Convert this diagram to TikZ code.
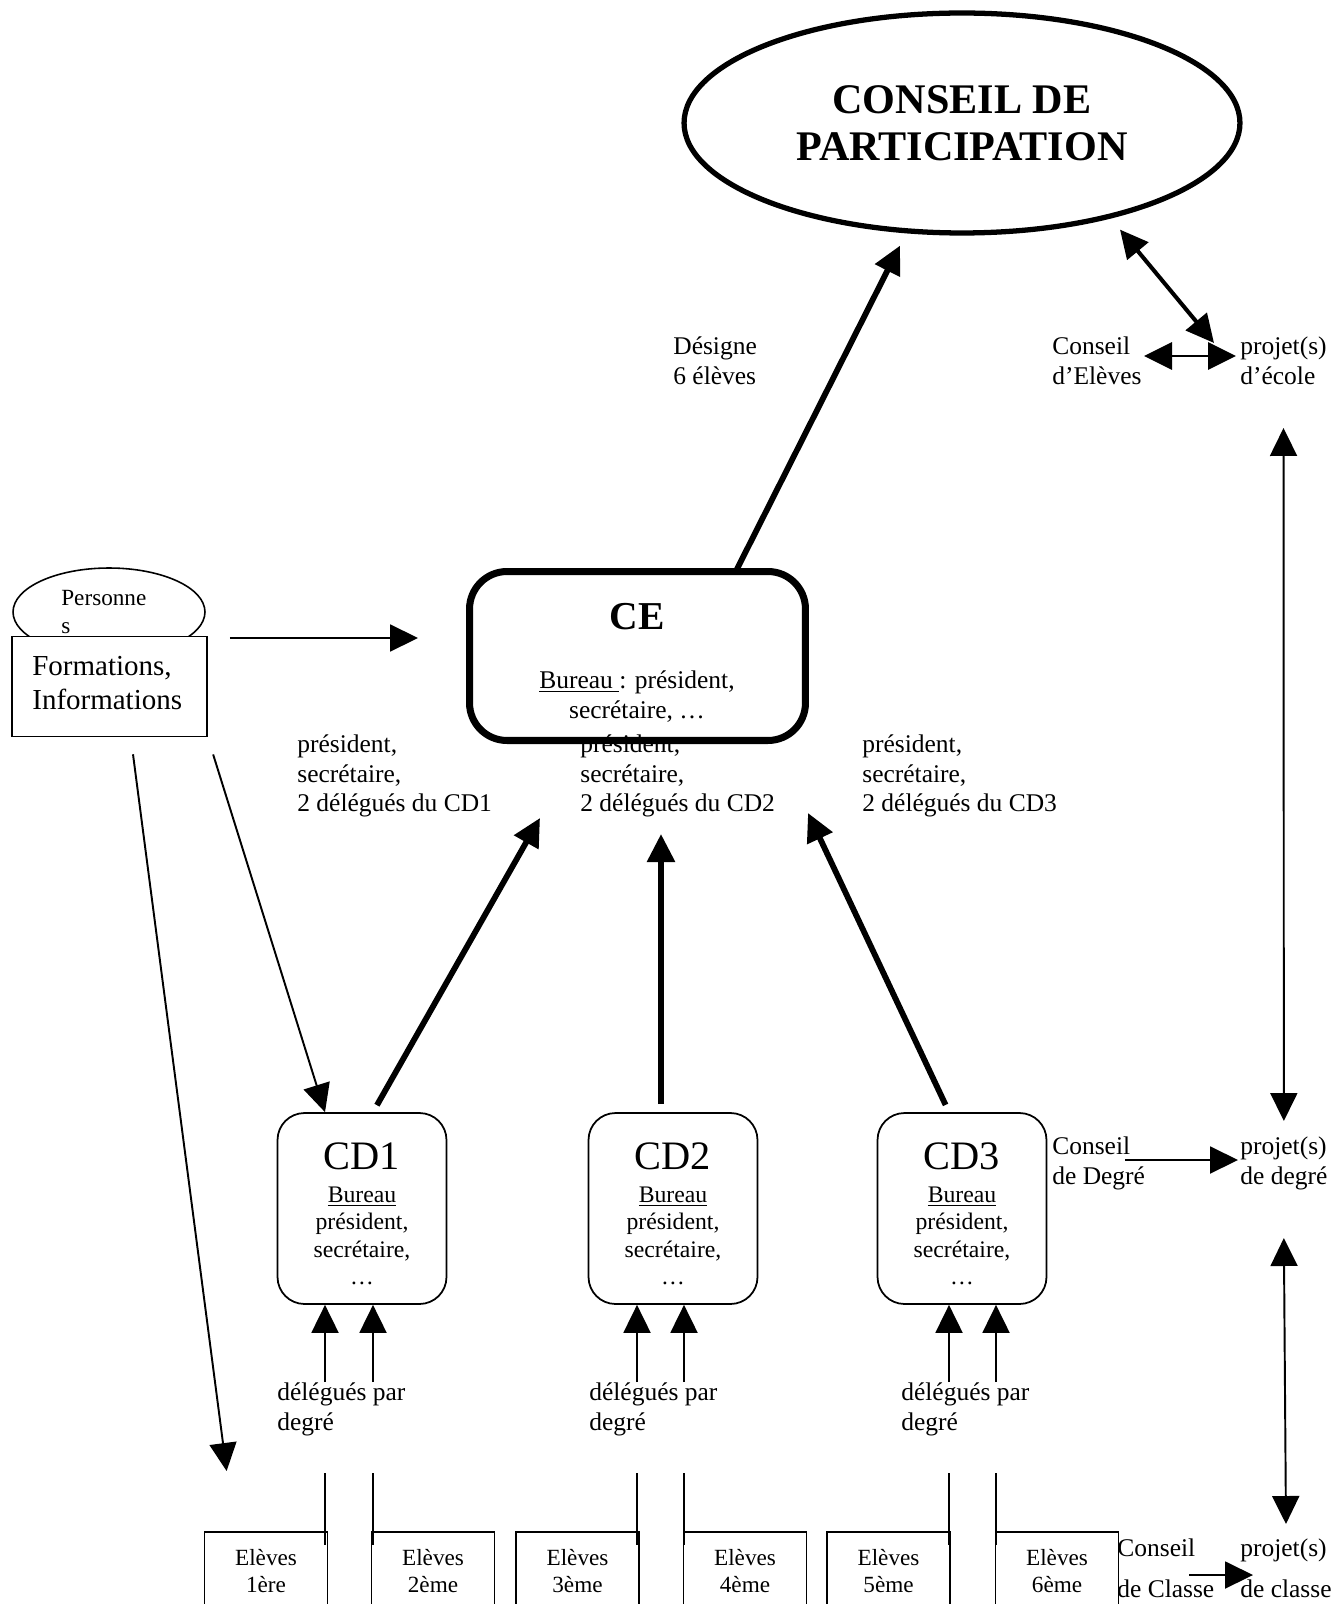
\documentclass[tikz,border=0pt]{standalone}
\usepackage{fontspec}
\setmainfont{Liberation Serif}
\usetikzlibrary{arrows.meta,shapes.geometric,calc}

\begin{document}
\begin{tikzpicture}[x=0.02cm,y=-0.02cm,>={Triangle[length=0.56cm,width=0.54cm]},
  txt/.style={inner sep=0pt,align=left,anchor=west,font=\fontsize{14.5}{17}\selectfont},
  thin/.style={line width=1.1pt},
  fat/.style={line width=3.3pt},
  cdbox/.style={draw,rounded corners=0.54cm,line width=1pt,minimum width=3.38cm,minimum height=3.82cm},
  elvbox/.style={draw,line width=1pt,anchor=north,minimum width=2.46cm,minimum height=3cm}]
  \useasboundingbox (0,0) rectangle (1332,1604);
  \clip (0,0) rectangle (1332,1604);
  \fill[white] (0,0) rectangle (1332,1604);

  % conseil de participation
  \node[draw,ellipse,line width=3pt,minimum width=11.12cm,minimum height=4.4cm,align=center,
    font=\fontsize{24}{26.7}\selectfont\bfseries] (cp) at (962,123) {CONSEIL DE\\PARTICIPATION};
  \node[txt] (des) at (673,361) {Désigne\\6 élèves};
  \node[txt] (cel) at (1052,361) {Conseil\\d’Elèves};
  \node[txt] (pje) at (1240,361) {projet(s)\\d’école};
  \node[txt] (cdg) at (1052,1163) {Conseil\\de Degré};
  \node[txt] (pjd) at (1240,1163) {projet(s)\\de degré};
  \node[txt,font=\fontsize{14.5}{23.3}\selectfont] (ccl) at (1117,1568) {Conseil\\de Classe};
  \node[txt,font=\fontsize{14.5}{23.3}\selectfont] (pjc) at (1240,1568) {projet(s)\\de classe};

  \draw[<->,line width=2.3pt] ($(cp.south)+(158,-6)$) -- ($(pje.west)+(-26,-18)$);
  \draw[<->,line width=1.7pt] ($(cel.west)+(92,-5)$) -- ($(pje.west)+(-4,-5)$);
  \draw[<->,thin] (pje.south |- 0,428) -- (pjd.north |- 0,1121);
  \draw[->,thin] ($(cdg.west)+(73,-3)$) -- ($(pjd.west)+(-2,-3)$);
  \draw[<->,thin] (pjd.south |- 0,1238) -- (pjc.north |- 0,1524);
  \draw[->,thin] ($(ccl.west)+(72,7)$) -- ($(pjc.west)+(13,7)$);

  % delegues vers le CE
  \node[txt] (lab1) at (297,776) {président,\\secrétaire,\\2 délégués du CD1};
  \node[txt] (lab2) at (580,776) {président,\\secrétaire,\\2 délégués du CD2};
  \node[txt] (lab3) at (862,776) {président,\\secrétaire,\\2 délégués du CD3};

  % CE
  \node[draw,rounded corners=0.75cm,line width=4pt,minimum width=6.72cm,minimum height=3.38cm] (ce) at (637.5,656) {};
  \node[font=\fontsize{22.5}{26}\selectfont\bfseries] (cet) at (637,617) {CE};
  \node[align=center,inner sep=0pt,font=\fontsize{14.5}{17}\selectfont] (ceb) at (637,697) {\underline{Bureau\ }: président,\\secrétaire, …};
  \draw[->,fat] ($(ce.north)+(97.5,5)$) -- ($(cp.south)+(-62,10)$);

  % formations
  \node[draw,ellipse,line width=0.9pt,minimum width=3.84cm,minimum height=1.76cm] (pers) at (109,612) {};
  \node[draw,fill=white,line width=0.9pt,minimum width=3.9cm,minimum height=2cm] (form) at (109.5,686.5) {};
  \node[txt,font=\fontsize{13.2}{15.4}\selectfont] (perst) at (61,612) {Personne\\s};
  \node[txt,font=\fontsize{16.5}{19.3}\selectfont] (formt) at (32,683) {Formations,\\Informations};
  \draw[->,thin,shorten <=0.44cm,shorten >=0.96cm] (form.east |- 0,638) -- (ce.west |- 0,638);

  % conseils de degre
  \foreach \i/\cx/\ax/\bx/\sx/\tx/\ty in {1/362/325/373/373/540/818, 2/673/637/684/661/661/834, 3/962/949/996/949/808/813} {
    \node[cdbox] (cd\i) at (\cx,1208.5) {};
    \node[font=\fontsize{23}{26}\selectfont] (cdn\i) at (\cx,1156) {CD\i};
    \node[align=center,inner sep=0pt,font=\fontsize{13.5}{15.6}\selectfont] (cdb\i) at (\cx,1236) {\underline{Bureau}\\président,\\secrétaire,\\…};
    \node[txt] (deg\i) at (\ax-48,1409) {délégués par\\degré};
    \draw[->,thin] (deg\i.north -| \ax,0) -- (cd\i.south -| \ax,0);
    \draw[->,thin] (deg\i.north -| \bx,0) -- (cd\i.south -| \bx,0);
    \draw[thin] (\ax,1473) -- (\ax,1545) (\bx,1473) -- (\bx,1545);
    \draw[->,fat,shorten <=0.16cm] (cd\i.north -| \sx,0) -- (\tx,\ty);
  }

  % eleves
  \foreach \j/\ex/\lvl in {1/266/1ère, 2/433/2ème, 3/577.5/3ème, 4/745/4ème, 5/888.5/5ème, 6/1057/6ème} {
    \node[elvbox] (e\j) at (\ex,1531) {};
    \node[align=center,inner sep=0pt,font=\fontsize{13.2}{15.4}\selectfont] (et\j) at (\ex,1571) {Elèves\\\lvl};
  }

  \draw[->,thin,shorten <=0.36cm] (form.south east) -- (cd1.north -| 325,0);
  \draw[->,thin] ($(form.south)+(23.5,17)$) -- ($(e1.north west)+(23,-60)$);
\end{tikzpicture}
\end{document}
